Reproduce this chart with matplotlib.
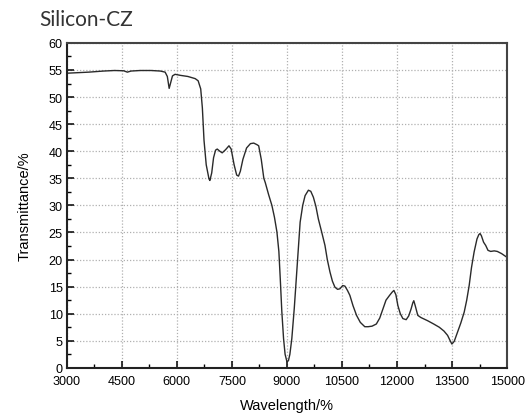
import matplotlib
matplotlib.use("Agg")
import matplotlib.pyplot as plt
from matplotlib.ticker import MultipleLocator

plt.rcParams["font.family"] = ["Liberation Sans", "DejaVu Sans"]

wavelength = [3000, 3300, 3600, 4000, 4300, 4550, 4650, 4750, 5000, 5300, 5550, 5680, 5740,
              5790, 5830, 5880, 5950, 6100, 6300, 6500, 6580, 6650, 6695, 6740, 6800, 6875, 6900,
              6950, 7000, 7055, 7100, 7170, 7235, 7330, 7420, 7480, 7560, 7630, 7680, 7730, 7800,
              7900, 8005, 8095, 8185, 8230, 8300, 8370, 8410, 8500, 8590, 8660, 8727, 8780, 8818,
              8860, 8908, 8950, 8998, 9040, 9080, 9133, 9200, 9268, 9320, 9360, 9430, 9495, 9585,
              9650, 9721, 9790, 9856, 9950, 10037, 10100, 10173, 10240, 10308, 10380, 10444, 10520,
              10580, 10650, 10715, 10800, 10897, 11000, 11122, 11211, 11320, 11437, 11530, 11618,
              11700, 11799, 11870, 11916, 11970, 12024, 12090, 12160, 12250, 12320, 12385, 12430,
              12458, 12500, 12566, 12650, 12837, 13000, 13153, 13280, 13379, 13450, 13496, 13560,
              13650, 13740, 13832, 13900, 13967, 14030, 14102, 14180, 14230, 14264, 14300, 14360,
              14418, 14480, 14553, 14650, 14734, 14850, 14960, 15000]
transmittance = [54.4, 54.5, 54.6, 54.8, 54.9, 54.85, 54.6, 54.8, 54.9, 54.9, 54.8, 54.6, 53.8,
                 51.6, 52.6, 53.9, 54.2, 54.0, 53.8, 53.4, 53.0, 51.5, 48.0, 42.0, 37.5, 34.9, 34.6,
                 36.0, 38.8, 40.2, 40.4, 40.0, 39.7, 40.3, 41.0, 40.4, 37.5, 35.6, 35.4, 36.3, 38.5,
                 40.6, 41.4, 41.5, 41.2, 41.0, 38.5, 35.0, 34.2, 32.0, 30.0, 27.8, 25.1, 21.5, 16.5,
                 10.5, 5.4, 2.5, 1.2, 1.3, 2.5, 5.4, 11.0, 17.7, 23.0, 26.9, 30.0, 31.8, 32.8,
                 32.6, 31.5, 29.8, 27.5, 25.0, 22.6, 20.0, 17.7, 16.0, 14.9, 14.5, 14.6, 15.2,
                 15.1, 14.3, 13.4, 11.5, 9.7, 8.4, 7.6, 7.6, 7.7, 8.1, 9.2, 10.9,
                 12.5, 13.4, 14.0, 14.3, 13.5, 11.5, 10.0, 9.1, 8.9, 9.6, 10.9, 12.0,
                 12.4, 11.4, 9.7, 9.3, 8.7, 8.1, 7.5, 6.8, 6.0, 5.0, 4.4, 4.9,
                 6.6, 8.3, 10.3, 12.5, 15.2, 18.5, 21.4, 23.8, 24.6, 24.8, 24.4, 23.2,
                 22.6, 21.7, 21.5, 21.6, 21.5, 21.1, 20.6, 20.4]

fig = plt.figure(figsize=(5.26, 4.14), dpi=100)
ax = fig.add_axes([0.127, 0.109, 0.837, 0.785])

ax.plot(wavelength, transmittance, color="#2a2a2a", lw=1.0)

ax.set_xlim(3000, 15000)
ax.set_ylim(0, 60)
ax.xaxis.set_major_locator(MultipleLocator(1500))
ax.xaxis.set_minor_locator(MultipleLocator(750))
ax.yaxis.set_major_locator(MultipleLocator(5))
ax.yaxis.set_minor_locator(MultipleLocator(2.5))
ax.tick_params(which="both", direction="in", top=False, right=False, labelsize=9.1)
ax.tick_params(axis="x", pad=5)
ax.tick_params(axis="y", pad=3)
ax.tick_params(which="major", length=5, width=1.1)
ax.tick_params(which="minor", length=3, width=1.0)

ax.grid(True, which="major", linestyle=(0, (1, 1.5)), color="#b0b0b0", lw=0.9)
for s in ["left", "bottom"]:
    ax.spines[s].set_linewidth(1.5)
    ax.spines[s].set_color("#222222")
for s in ["top", "right"]:
    ax.spines[s].set_linewidth(1.5)
    ax.spines[s].set_color("#444444")

ax.set_xlabel("Wavelength/%", fontsize=10.5, labelpad=8)
ax.set_ylabel("Transmittance/%", fontsize=10.5, labelpad=12)

fig.text(0.074, 0.937, "Silicon-CZ", fontsize=15, family="Lato", color="#333333",
         ha="left", va="baseline")

fig.savefig("out.png", dpi=100)
